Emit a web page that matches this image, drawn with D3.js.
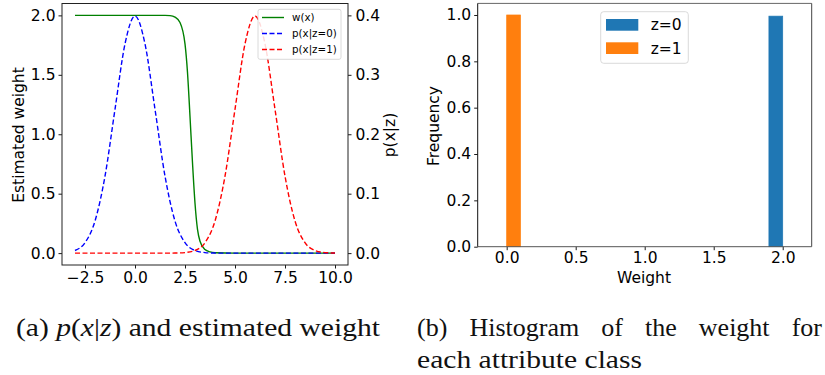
<!DOCTYPE html>
<html>
<head>
<meta charset="utf-8">
<script src="https://cdn.jsdelivr.net/npm/d3@7"></script>
<style>
  html, body { margin: 0; padding: 0; background: #fff; }
  svg { display: block; }
</style>
</head>
<body>
<svg id="chart" width="825" height="375"></svg>
<script>
// ---------------- data ----------------
// left panel: densities on a 0.5 grid
const pdfX = [-3,-2.5,-2,-1.5,-1,-0.5,0,0.5,1,1.5,2,2.5,3,3.5,4,4.5,5,5.5,6,6.5,7,7.5,8,8.5,9,9.5,10];
const pdfZ0 = [0.0044,0.0175,0.054,0.1295,0.242,0.352,0.399,0.352,0.242,0.1295,0.054,0.0175,0.0044,0.0009,0.0001,0,0,0,0,0,0,0,0,0,0,0,0];
const pdfZ1 = [0,0,0,0,0,0,0,0,0,0,0.0001,0.0009,0.0044,0.0175,0.054,0.1295,0.242,0.352,0.399,0.352,0.242,0.1295,0.054,0.0175,0.0044,0.0009,0.0001];
// left panel: estimated weight w(x)
const wX = [-3,-2,-1,0,1,1.5,1.75,2,2.25,2.5,2.625,2.75,2.875,3,3.125,3.25,3.5,3.75,4,5,6,7,8,9,10];
const wY = [2,2,2,2,2,2,1.998,1.985,1.94,1.76,1.52,1.15,0.76,0.42,0.2,0.1,0.03,0.01,0.003,0,0,0,0,0,0];
const leftXTicks = [-2.5,0,2.5,5,7.5,10];
const leftYTicks = [0,0.5,1,1.5,2];
const rightYTicks = [0,0.1,0.2,0.3,0.4];
const lineLegend = ["w(x)","p(x|z=0)","p(x|z=1)"];

// right panel: histogram
const binCenters = [0,0.25,0.5,0.75,1,1.25,1.5,1.75,2];
const freqZ0 = [0,0,0,0,0,0,0,0,0.995];
const freqZ1 = [1,0,0,0,0,0,0,0,0];
const histXTicks = [0,0.5,1,1.5,2];
const histYTicks = [0,0.2,0.4,0.6,0.8,1];
const histLegend = ["z=0","z=1"];

// ---------------- drawing ----------------
const svg = d3.select("#chart");
const FONT = "DejaVu Sans";
const FS = 15.5;
const fmt = d3.format(".1f");

function styleAxis(g) {
  g.attr("font-family", FONT).attr("font-size", FS);
  g.select(".domain").remove();
  g.selectAll(".tick line").attr("stroke", "#000").attr("stroke-width", 0.9);
  g.selectAll(".tick text").attr("fill", "#000");
}

// ===== Left panel =====
const L = {x0: 62, x1: 348, y0: 3.5, y1: 265};
const xL = d3.scaleLinear().domain([-3.65, 10.65]).range([L.x0, L.x1]);
const yL = d3.scaleLinear().domain([-0.1, 2.1]).range([L.y1, L.y0]);
const yR = d3.scaleLinear().domain([-0.02, 0.42]).range([L.y1, L.y0]);

const gL = svg.append("g");
gL.append("g").attr("transform", `translate(0,${L.y1})`)
  .call(d3.axisBottom(xL).tickValues(leftXTicks).tickFormat(fmt).tickSize(3.5).tickPadding(3))
  .call(styleAxis);
gL.append("g").attr("transform", `translate(${L.x0},0)`)
  .call(d3.axisLeft(yL).tickValues(leftYTicks).tickFormat(fmt).tickSize(3.5).tickPadding(3))
  .call(styleAxis);
gL.append("g").attr("transform", `translate(${L.x1},0)`)
  .call(d3.axisRight(yR).tickValues(rightYTicks).tickFormat(fmt).tickSize(3.5).tickPadding(4))
  .call(styleAxis);

svg.append("clipPath").attr("id", "clipL").append("rect")
  .attr("x", L.x0).attr("y", L.y0).attr("width", L.x1 - L.x0).attr("height", L.y1 - L.y0);

const plotL = gL.append("g").attr("clip-path", "url(#clipL)");
const lineW = d3.line().x(d => xL(d[0])).y(d => yL(d[1])).curve(d3.curveMonotoneX);
const lineP = d3.line().x(d => xL(d[0])).y(d => yR(d[1])).curve(d3.curveMonotoneX);
const DASH = "5,2.5";

plotL.append("path").datum(wX.map((x, i) => [x, wY[i]]))
  .attr("d", lineW).attr("fill", "none").attr("stroke", "#008000").attr("stroke-width", 1.4);
plotL.append("path").datum(pdfX.map((x, i) => [x, pdfZ0[i]]))
  .attr("d", lineP).attr("fill", "none").attr("stroke", "#0000ff").attr("stroke-width", 1.4)
  .attr("stroke-dasharray", DASH);
plotL.append("path").datum(pdfX.map((x, i) => [x, pdfZ1[i]]))
  .attr("d", lineP).attr("fill", "none").attr("stroke", "#ff0000").attr("stroke-width", 1.4)
  .attr("stroke-dasharray", DASH);

gL.append("rect").attr("x", L.x0).attr("y", L.y0).attr("width", L.x1 - L.x0).attr("height", L.y1 - L.y0)
  .attr("fill", "none").attr("stroke", "#222").attr("stroke-width", 1);

// legend left
const legL = gL.append("g");
legL.append("rect").attr("x", 258).attr("y", 9.3).attr("width", 83).attr("height", 50)
  .attr("rx", 2).attr("fill", "#fff").attr("fill-opacity", 0.85).attr("stroke", "#d0d0d0").attr("stroke-width", 0.8);
const legStyles = [
  {c: "#008000", dash: null},
  {c: "#0000ff", dash: DASH},
  {c: "#ff0000", dash: DASH}
];
lineLegend.forEach((lab, i) => {
  const yy = 17.5 + i * 16;
  legL.append("line").attr("x1", 262).attr("x2", 284).attr("y1", yy).attr("y2", yy)
    .attr("stroke", legStyles[i].c).attr("stroke-width", 1.4)
    .attr("stroke-dasharray", legStyles[i].dash);
  legL.append("text").attr("x", 292).attr("y", yy).attr("dy", "0.35em")
    .attr("font-family", FONT).attr("font-size", 10.3).text(lab);
});

// axis labels left
gL.append("text").attr("transform", "translate(24,135) rotate(-90)")
  .attr("text-anchor", "middle").attr("font-family", FONT).attr("font-size", FS).text("Estimated weight");
gL.append("text").attr("transform", "translate(395,135) rotate(-90)")
  .attr("text-anchor", "middle").attr("font-family", FONT).attr("font-size", FS).text("p(x|z)");

// ===== Right panel =====
const R = {x0: 477.7, x1: 811.7, y0: 3.4, y1: 246.7};
const xH = d3.scaleLinear().domain([-0.21, 2.21]).range([R.x0, R.x1]);
const yH = d3.scaleLinear().domain([0, 1.05]).range([R.y1, R.y0]);
const gR = svg.append("g");

gR.append("g").attr("transform", `translate(0,${R.y1})`)
  .call(d3.axisBottom(xH).tickValues(histXTicks).tickFormat(fmt).tickSize(3.5).tickPadding(2))
  .call(styleAxis);
gR.append("g").attr("transform", `translate(${R.x0},0)`)
  .call(d3.axisLeft(yH).tickValues(histYTicks).tickFormat(fmt).tickSize(3.5).tickPadding(3))
  .call(styleAxis);

const bw = binCenters[1] - binCenters[0];
const barW = 0.4 * bw;
const colors = ["#1f77b4", "#ff7f0e"];
[freqZ0, freqZ1].forEach((arr, s) => {
  gR.append("g").selectAll("rect").data(arr).join("rect")
    .attr("x", (d, i) => xH(binCenters[i] - bw / 2 + 0.1 * bw + s * barW))
    .attr("width", xH(barW) - xH(0))
    .attr("y", d => yH(d))
    .attr("height", d => yH(0) - yH(d))
    .attr("fill", colors[s])
    .attr("stroke", colors[s]).attr("stroke-width", 0.7);
});

// frame right
gR.append("line").attr("x1", R.x0).attr("x2", R.x1).attr("y1", R.y0).attr("y2", R.y0).attr("stroke", "#666").attr("stroke-width", 1);
gR.append("line").attr("x1", R.x1).attr("x2", R.x1).attr("y1", R.y0).attr("y2", R.y1).attr("stroke", "#444").attr("stroke-width", 1);
gR.append("line").attr("x1", R.x0).attr("x2", R.x1).attr("y1", R.y1).attr("y2", R.y1).attr("stroke", "#555").attr("stroke-width", 1);
gR.append("line").attr("x1", R.x0).attr("x2", R.x0).attr("y1", R.y0).attr("y2", R.y1).attr("stroke", "#111").attr("stroke-width", 1);

// legend right
const legR = gR.append("g");
legR.append("rect").attr("x", 600.7).attr("y", 11.7).attr("width", 87.6).attr("height", 51.6)
  .attr("rx", 3).attr("fill", "#fff").attr("fill-opacity", 0.85).attr("stroke", "#d0d0d0").attr("stroke-width", 0.8);
histLegend.forEach((lab, i) => {
  const yy = 19 + i * 23.3;
  legR.append("rect").attr("x", 606).attr("y", yy).attr("width", 32.3).attr("height", 11.7).attr("fill", colors[i]);
  legR.append("text").attr("x", 650.7).attr("y", yy + 5.85).attr("dy", "0.36em")
    .attr("font-family", FONT).attr("font-size", FS).text(lab);
});

gR.append("text").attr("transform", "translate(439,126) rotate(-90)")
  .attr("text-anchor", "middle").attr("font-family", FONT).attr("font-size", FS).text("Frequency");
gR.append("text").attr("x", 644).attr("y", 283)
  .attr("text-anchor", "middle").attr("font-family", FONT).attr("font-size", FS).text("Weight");

// ===== Captions =====
const SERIF = "Liberation Serif";
const CFS = 26;
const capA = svg.append("text").attr("x", 16).attr("y", 336)
  .attr("font-family", SERIF).attr("font-size", CFS).attr("fill", "#111");
[["(a) ", "normal"], ["p", "italic"], ["(", "normal"], ["x", "italic"], ["|", "normal"], ["z", "italic"], [")", "normal"], [" and estimated weight", "normal"]]
  .forEach(([t, st]) => capA.append("tspan").attr("font-style", st).text(t));
capA.attr("textLength", 364).attr("lengthAdjust", "spacingAndGlyphs");

// justified first line of caption (b)
const wordsB1 = ["(b)", "Histogram", "of", "the", "weight", "for"];
const bx0 = 417, bx1 = 822;
const wEls = wordsB1.map(w => svg.append("text").attr("y", 336)
  .attr("font-family", SERIF).attr("font-size", CFS).attr("fill", "#111").text(w));
const widths = wEls.map(e => e.node().getComputedTextLength());
const totalW = d3.sum(widths);
const gap = (bx1 - bx0 - totalW) / (wordsB1.length - 1);
let cx = bx0;
wEls.forEach((e, i) => { e.attr("x", cx); cx += widths[i] + gap; });

svg.append("text").attr("x", 417).attr("y", 367.5)
  .attr("font-family", SERIF).attr("font-size", CFS).attr("fill", "#111")
  .attr("textLength", 225).attr("lengthAdjust", "spacingAndGlyphs")
  .text("each attribute class");
</script>
</body>
</html>
